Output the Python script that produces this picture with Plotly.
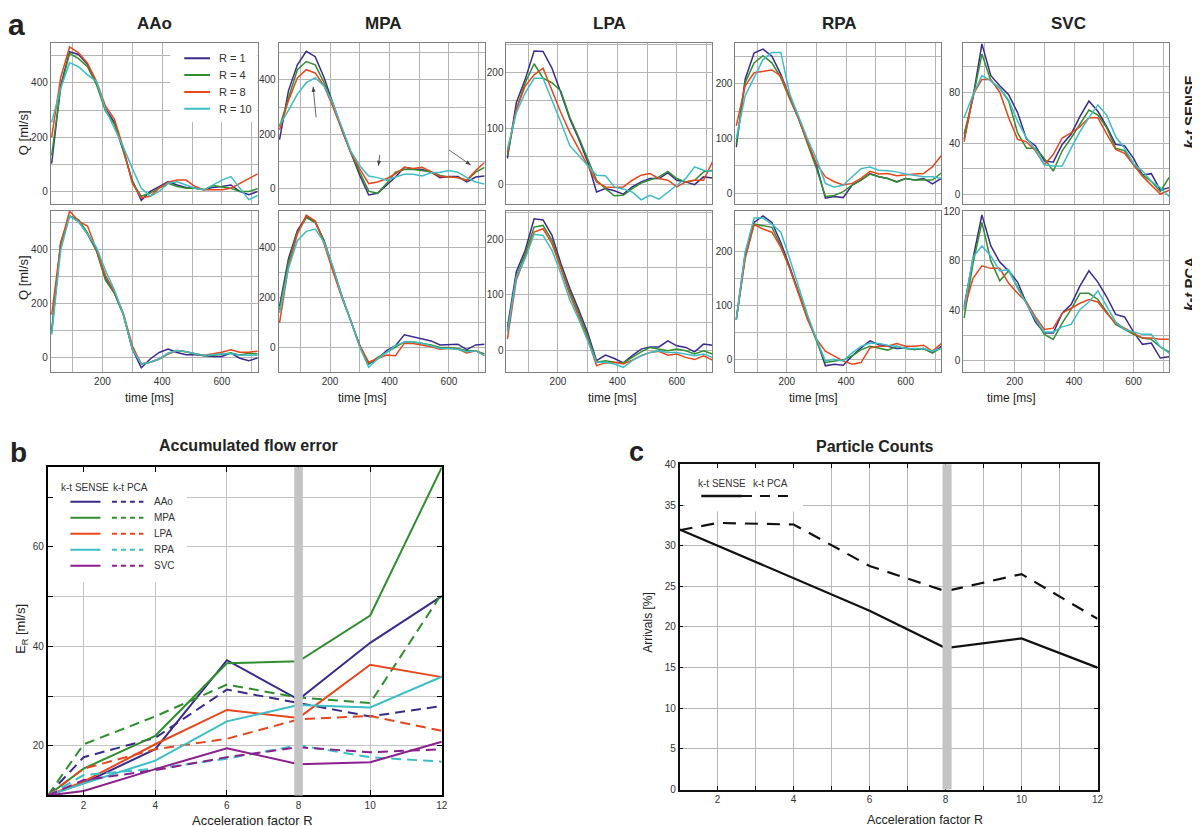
import plotly.graph_objects as go

# ---------------- data ----------------
T_MS = list(range(30, 721, 30))
R_LABELS = ['R = 1', 'R = 4', 'R = 8', 'R = 10']
VESSELS = ['AAo', 'MPA', 'LPA', 'RPA', 'SVC']

# flow curves Q [ml/s], one list per R (1, 4, 8, 10)
AAO_SENSE = [
    [103, 390, 515, 505, 468, 400, 305, 255, 150, 40, -33, 0, 18, 36, 24, 15, 12, 6, 15, 18, 24, 0, -12, 0],
    [133, 380, 509, 490, 460, 394, 297, 248, 150, 35, -18, -6, 12, 30, 18, 12, 12, 6, 22, 18, 12, 0, 0, 10],
    [200, 420, 533, 511, 473, 406, 315, 267, 160, 30, -24, -18, 12, 34, 42, 42, 18, 6, 6, 6, 12, 30, 45, 65],
    [255, 380, 475, 460, 430, 406, 303, 236, 164, 85, 12, -18, 0, 30, 36, 24, 12, 6, 24, 42, 55, 12, -30, -15],
]
AAO_PCA = [
    [100, 420, 524, 503, 457, 396, 293, 239, 160, 33, -36, -4, 20, 33, 20, 12, 12, 8, 5, 5, 18, -1, -10, 0],
    [93, 427, 524, 511, 462, 396, 287, 239, 160, 33, -22, -16, -4, 15, 27, 23, 15, 8, 10, 15, 18, 11, 17, 15],
    [160, 420, 542, 505, 487, 400, 305, 245, 165, 45, -22, -16, -4, 15, 27, 23, 15, 10, 15, 21, 30, 21, 21, 25],
    [87, 396, 524, 503, 457, 408, 323, 251, 160, 33, -22, -16, -4, 18, 27, 23, 15, 10, 12, 15, 15, 11, 10, 10],
]
MPA_SENSE = [
    [180, 360, 456, 506, 486, 408, 312, 216, 132, 48, -24, -18, 12, 42, 78, 72, 70, 60, 40, 44, 44, 24, 42, 46],
    [228, 336, 438, 468, 456, 390, 312, 216, 132, 60, -10, -18, 18, 60, 70, 70, 66, 62, 48, 42, 40, 30, 60, 78],
    [216, 324, 408, 438, 426, 378, 300, 216, 132, 72, 18, 24, 36, 54, 78, 74, 78, 62, 44, 42, 40, 30, 66, 96],
    [234, 288, 348, 390, 408, 378, 312, 222, 138, 84, 46, 40, 30, 42, 52, 52, 46, 58, 60, 66, 60, 40, 24, 16],
]
MPA_PCA = [
    [164, 354, 466, 521, 502, 426, 315, 203, 105, 7, -66, -46, -13, 7, 50, 42, 35, 26, 10, 10, 13, -9, 10, 13],
    [150, 341, 459, 518, 498, 426, 315, 203, 105, 7, -66, -40, -20, 0, 22, 22, 17, 10, 0, 0, -4, -13, -13, -26],
    [98, 321, 452, 528, 504, 413, 302, 197, 105, 7, -59, -43, -30, -33, 17, 16, 10, 3, -7, -3, -7, -22, -13, -33],
    [138, 315, 426, 463, 472, 420, 321, 203, 105, 0, -79, -46, -20, 7, 22, 22, 17, 7, -4, -4, -7, -17, -13, -33],
]
LPA_SENSE = [
    [46, 146, 188, 239, 238, 208, 164, 117, 81, 40, -14, -8, -12, -18, -5, 4, 10, 10, 20, 7, 4, -1, 13, 11],
    [51, 134, 182, 216, 190, 182, 167, 120, 84, 46, 7, -8, -21, -20, -8, 2, 7, 13, 23, 10, 4, 7, 22, 25],
    [57, 134, 176, 196, 208, 167, 128, 93, 63, 34, 4, -5, -6, -5, 7, 16, 19, 10, 7, -5, 4, 7, 7, 40],
    [63, 128, 164, 190, 190, 152, 111, 69, 51, 34, 16, 15, -5, -9, -14, -28, -20, -27, -14, -2, 10, 31, 25, 23],
]
LPA_PCA = [
    [41, 142, 181, 238, 236, 208, 157, 112, 73, 32, -19, -9, -15, -23, -10, 2, 6, 6, 17, 8, 5, -3, 11, 9],
    [35, 133, 175, 223, 226, 199, 151, 106, 67, 26, -22, -19, -22, -23, -13, -3, 5, 2, -1, 2, -1, -7, -1, -7],
    [20, 127, 169, 214, 220, 193, 148, 100, 61, 20, -28, -23, -22, -25, -18, -10, -4, -2, -9, -7, -13, -17, -10, -18],
    [32, 133, 166, 210, 208, 181, 139, 91, 56, 17, -22, -22, -25, -31, -19, -10, -4, -1, -4, -4, -7, -10, -7, -13],
]
RPA_SENSE = [
    [84, 208, 256, 263, 250, 217, 175, 136, 93, 51, -9, -6, -8, 15, 24, 36, 30, 27, 21, 27, 24, 27, 17, 27],
    [90, 202, 238, 251, 238, 211, 172, 136, 90, 45, -6, -4, 3, 15, 24, 35, 30, 27, 20, 27, 24, 24, 24, 37],
    [123, 196, 220, 223, 225, 214, 175, 136, 93, 54, 30, 21, 15, 18, 27, 40, 35, 36, 32, 34, 35, 36, 48, 69],
    [99, 178, 211, 244, 257, 257, 181, 139, 99, 63, 18, 11, 15, 30, 45, 48, 42, 41, 39, 35, 32, 30, 30, 27],
]
RPA_PCA = [
    [73, 195, 253, 265, 253, 216, 171, 125, 76, 37, -12, -9, -11, 6, 21, 34, 27, 24, 20, 21, 18, 20, 12, 24],
    [73, 189, 250, 247, 244, 210, 168, 122, 76, 34, -6, -3, -1, 6, 18, 24, 21, 17, 24, 20, 18, 20, 12, 21],
    [73, 186, 249, 241, 235, 207, 168, 119, 73, 37, 15, 6, -3, -9, -6, 21, 24, 24, 29, 24, 24, 26, 15, 29],
    [73, 198, 261, 261, 250, 235, 186, 134, 82, 37, -3, 0, -3, 12, 24, 30, 29, 26, 24, 20, 20, 20, 15, 20],
]
SVC_SENSE = [
    [43, 76, 118, 93, 85, 78, 64, 43, 38, 26, 25, 39, 47, 61, 73, 65, 53, 39, 38, 28, 15, 16, 3, 5],
    [47, 76, 110, 89, 83, 73, 48, 36, 36, 28, 18, 34, 44, 55, 66, 62, 52, 36, 34, 23, 15, 10, 2, 13],
    [41, 78, 90, 90, 80, 60, 43, 41, 34, 23, 31, 44, 48, 53, 60, 60, 47, 35, 32, 23, 14, 7, 0, 3],
    [60, 78, 93, 89, 83, 74, 57, 44, 35, 23, 22, 22, 36, 49, 60, 70, 62, 45, 36, 24, 18, 10, 5, -2],
]
SVC_PCA = [
    [43, 82, 117, 92, 79, 72, 63, 46, 31, 22, 22, 38, 45, 60, 72, 63, 51, 37, 35, 23, 13, 14, 2, 3],
    [34, 78, 111, 80, 64, 72, 59, 46, 33, 21, 17, 30, 41, 54, 54, 49, 39, 29, 25, 21, 18, 17, 11, 7],
    [41, 66, 76, 74, 74, 62, 54, 47, 35, 25, 26, 38, 42, 46, 49, 47, 38, 30, 26, 22, 18, 18, 17, 17],
    [41, 83, 92, 84, 72, 73, 58, 46, 33, 23, 23, 27, 29, 41, 47, 56, 43, 31, 25, 23, 21, 21, 11, 6],
]

# accumulated flow error E_R [ml/s], vessel order AAo, MPA, LPA, RPA, SVC
R_ACCEL = [1, 2, 4, 6, 8, 10, 12]
ERR_SENSE = [
    [10, 12.5, 19.3, 37.2, 29.3, 40.7, 50.1],
    [10, 15.4, 22.0, 36.6, 37.0, 46.2, 76.0],
    [10, 12.8, 20.3, 27.2, 25.6, 36.3, 33.8],
    [10, 12.4, 17.0, 24.9, 28.2, 27.7, 33.9],
    [10, 10.9, 15.3, 19.5, 16.3, 16.7, 20.8],
]
ERR_PCA = [
    [10, 17.7, 21.6, 31.3, 28.6, 25.9, 28.0],
    [10, 20.3, 25.9, 32.3, 29.7, 28.6, 50.6],
    [10, 15.4, 19.3, 21.4, 25.3, 26.0, 23.0],
    [10, 14.1, 15.4, 17.4, 20.1, 17.7, 16.8],
    [10, 13.1, 15.1, 17.7, 19.7, 18.7, 19.3],
]

# particle counts, arrivals [%]
ARRIVALS_SENSE = [32, 30, 26, 22, 17.4, 18.6, 15]
ARRIVALS_PCA = [31.9, 32.8, 32.6, 27.5, 24.4, 26.5, 21]

# ---------------- style ----------------
W, H = 1200, 826
FONT = 'Arial, "Liberation Sans", sans-serif'
R_COLORS = ['#3a2a8e', '#2f8f2f', '#e8461c', '#3dbdc6']
VESSEL_COLORS = ['#3a2a8e', '#2f8f2f', '#e8461c', '#3dbdc6', '#8b1f8e']
FRAME = '#808080'
GRID = '#b4b4b4'


def fx(px):
    return px / W


def fy(py):
    return 1 - py / H


def ax_name(k):
    return ('x' if k == 1 else f'x{k}'), ('y' if k == 1 else f'y{k}')


fig = go.Figure()
layout = dict(
    width=W, height=H, margin=dict(l=0, r=0, t=0, b=0),
    paper_bgcolor='white', plot_bgcolor='white', showlegend=False,
    font=dict(family=FONT, color='#222'),
)
shapes = []
annotations = []


def label(x, y, text, size, angle=0, xanchor='center', xref='paper', yref='paper', color='#222'):
    annotations.append(dict(x=x, y=y, xref=xref, yref=yref, text=text, showarrow=False,
                            font=dict(size=size, color=color, family=FONT), textangle=angle,
                            xanchor=xanchor, yanchor='middle'))


def arrow(hx, hy, tx, ty, xref, yref, sx, sy):
    # thin line + small filled head; sx, sy = pixels per data unit
    shapes.append(dict(type='line', xref=xref, yref=yref, x0=tx, y0=ty, x1=hx, y1=hy,
                       line=dict(color='#444', width=0.8), layer='above'))
    dx, dy = (hx - tx) * sx, (hy - ty) * sy
    n = (dx * dx + dy * dy) ** 0.5
    ux, uy = dx / n, dy / n
    bx, by = -ux * 5, -uy * 5
    px, py = -uy * 2, ux * 2
    pts = [(0, 0), (bx + px, by + py), (bx - px, by - py)]
    path = 'M ' + ' L '.join(f'{hx + a / sx:.3f},{hy + b / sy:.3f}' for a, b in pts) + ' Z'
    shapes.append(dict(type='path', xref=xref, yref=yref, path=path, fillcolor='#444',
                       line=dict(width=0), layer='above'))


# ---------------- panel a ----------------
COL_PX = [(43, 251), (272, 479), (501, 708), (731, 938), (960, 1167)]
ROW_PX = [(29, 193), (200, 363)]
Y_RANGES = [[[-47, 549], [-58, 538], [-36, 254], [-20, 275], [-8, 119]],
            [[-51, 542], [-97, 544], [-39, 252], [-23, 274], [-9, 120]]]
Y_DTICK = [200, 200, 100, 100, 40]
PANELS = [[AAO_SENSE, MPA_SENSE, LPA_SENSE, RPA_SENSE, SVC_SENSE],
          [AAO_PCA, MPA_PCA, LPA_PCA, RPA_PCA, SVC_PCA]]

for r in range(2):
    for c in range(5):
        k = r * 5 + c + 1
        xr, yr = ax_name(k)
        for series, color, name in zip(PANELS[r][c], R_COLORS, R_LABELS):
            fig.add_trace(go.Scatter(x=T_MS, y=series, mode='lines', name=name,
                                     line=dict(color=color, width=1.5),
                                     xaxis=xr, yaxis=yr, hoverinfo='skip'))
        common = dict(showline=True, mirror=True, linecolor=FRAME, linewidth=1,
                      showgrid=True, gridcolor=GRID, gridwidth=1, zeroline=False,
                      ticks='', tickfont=dict(size=10, color='#333'))
        layout['xaxis' if k == 1 else f'xaxis{k}'] = dict(
            domain=[fx(COL_PX[c][0]), fx(COL_PX[c][1])], range=[27, 720], anchor=yr,
            tick0=0, dtick=200, minor=dict(dtick=100, showgrid=True, gridcolor=GRID),
            showticklabels=(r == 1), **common)
        layout['yaxis' if k == 1 else f'yaxis{k}'] = dict(
            domain=[fy(ROW_PX[r][1]), fy(ROW_PX[r][0])], range=Y_RANGES[r][c], anchor=xr,
            tick0=0, dtick=Y_DTICK[c],
            minor=dict(dtick=Y_DTICK[c] / 2, showgrid=True, gridcolor=GRID), **common)

# legend of panel a (inside AAo k-t SENSE)
shapes.append(dict(type='rect', xref='x', yref='y', x0=427, x1=719, y0=255, y1=548,
                   fillcolor='white', line=dict(width=0), layer='between'))
for i, (name, color) in enumerate(zip(R_LABELS, R_COLORS)):
    yv = 491 - i * 62
    shapes.append(dict(type='line', xref='x', yref='y', x0=474, x1=560, y0=yv, y1=yv,
                       line=dict(color=color, width=2), layer='above'))
    label(584, yv, name, 11, xanchor='left', xref='x', yref='y', color='#333')

# arrows in MPA k-t SENSE (0.3 px/ms, 0.275 px per ml/s)
for hx, hy, tx, ty in [(143, 375, 153, 262), (363, 84, 367, 124), (673, 87, 600, 142)]:
    arrow(hx, hy, tx, ty, 'x2', 'y2', 0.3, 0.275)

for name, (x0, x1), dy in zip(VESSELS, COL_PX, [0, 2, 0, 1, 2]):
    label(fx((x0 + x1) / 2 + dy), fy(10), f'<b>{name}</b>', 17)
for xc in [142, 356, 608, 810, 1009]:
    label(fx(xc), fy(390), 'time [ms]', 12)
label(fx(15), fy(120), 'Q [ml/s]', 13, angle=-90)
label(fx(15), fy(267), 'Q [ml/s]', 13, angle=-90)
label(fx(1187), fy(100), '<b><i>k-t</i> SENSE</b>', 15, angle=-90)
label(fx(1187), fy(274), '<b><i>k-t</i> PCA</b>', 15, angle=-90)
label(fx(9), fy(11), '<b>a</b>', 30)

# ---------------- panel b ----------------
for s, p, color in zip(ERR_SENSE, ERR_PCA, VESSEL_COLORS):
    fig.add_trace(go.Scatter(x=R_ACCEL, y=s, mode='lines', line=dict(color=color, width=2),
                             xaxis='x11', yaxis='y11', hoverinfo='skip'))
    fig.add_trace(go.Scatter(x=R_ACCEL, y=p, mode='lines',
                             line=dict(color=color, width=2, dash='10px,6px'),
                             xaxis='x11', yaxis='y11', hoverinfo='skip'))

frame_b = dict(showline=True, mirror='allticks', linecolor='black', linewidth=2,
               ticks='inside', ticklen=5, tickcolor='black', showgrid=True,
               gridcolor='#c4c4c4', zeroline=False, tickfont=dict(size=10, color='#333'))
layout['xaxis11'] = dict(domain=[fx(40), fx(436)], range=[1, 12], anchor='y11',
                         tickvals=R_ACCEL[1:], **frame_b)
layout['yaxis11'] = dict(domain=[fy(793), fy(460)], range=[10, 76], anchor='x11',
                         tick0=0, dtick=20,
                         minor=dict(dtick=10, showgrid=True, gridcolor='#c4c4c4',
                                    ticks='inside', ticklen=5, tickcolor='black'),
                         **frame_b)

shapes.append(dict(type='rect', xref='x11', yref='y11', x0=1, x1=4.88, y0=52.9, y1=76,
                   fillcolor='white', line=dict(width=0), layer='between'))
shapes.append(dict(type='rect', xref='x11', yref='y11 domain', x0=7.88, x1=8.12, y0=0, y1=1,
                   fillcolor='#c4c4c4', line=dict(width=0), layer='above'))
label(2.05, 72, 'k-t SENSE', 10, xref='x11', yref='y11', color='#333')
label(3.3, 72, 'k-t PCA', 10, xref='x11', yref='y11', color='#333')
for i, (name, color) in enumerate(zip(VESSELS, VESSEL_COLORS)):
    yv = 69.1 - i * 3.22
    shapes.append(dict(type='line', xref='x11', yref='y11', x0=1.63, x1=2.47, y0=yv, y1=yv,
                       line=dict(color=color, width=2), layer='above'))
    shapes.append(dict(type='line', xref='x11', yref='y11', x0=2.79, x1=3.67, y0=yv, y1=yv,
                       line=dict(color=color, width=2, dash='5px,4px'), layer='above'))
    label(3.9, yv, name, 10, xanchor='left', xref='x11', yref='y11', color='#333')

label(fx(242), fy(438), '<b>Accumulated flow error</b>', 16)
label(fx(246), fy(818), 'Acceleration factor R', 13)
label(fx(14), fy(624), 'E<sub>R</sub> [ml/s]', 13, angle=-90)
label(fx(11), fy(445), '<b>b</b>', 28)

# ---------------- panel c ----------------
fig.add_trace(go.Scatter(x=R_ACCEL, y=ARRIVALS_SENSE, mode='lines', line=dict(color='#111', width=2.2),
                         xaxis='x12', yaxis='y12', hoverinfo='skip'))
fig.add_trace(go.Scatter(x=R_ACCEL, y=ARRIVALS_PCA, mode='lines',
                         line=dict(color='#111', width=2.2, dash='13px,9px'),
                         xaxis='x12', yaxis='y12', hoverinfo='skip'))

frame_c = dict(showline=True, mirror='allticks', linecolor='#111', linewidth=1.5,
               ticks='inside', ticklen=4, tickcolor='#111', showgrid=True,
               gridcolor='#b8b8b8', zeroline=False, tickfont=dict(size=10, color='#333'))
layout['xaxis12'] = dict(domain=[fx(675), fx(1095)], range=[1, 12], anchor='y12',
                         tick0=0, dtick=2,
                         minor=dict(dtick=1, showgrid=True, gridcolor='#b8b8b8', ticks='inside',
                                    ticklen=4, tickcolor='#111'), **frame_c)
layout['yaxis12'] = dict(domain=[fy(787), fy(457)], range=[0, 40], anchor='x12',
                         tick0=0, dtick=5, **frame_c)

shapes.append(dict(type='rect', xref='x12', yref='y12', x0=1.15, x1=4.25, y0=34.2, y1=40,
                   fillcolor='white', line=dict(width=0), layer='between'))
shapes.append(dict(type='rect', xref='x12', yref='y12 domain', x0=7.92, x1=8.16, y0=0, y1=1,
                   fillcolor='#c4c4c4', line=dict(width=0), layer='above'))
shapes.append(dict(type='line', xref='x12', yref='y12', x0=1.57, x1=2.64, y0=36.1, y1=36.1,
                   line=dict(color='#111', width=2.5), layer='above'))
shapes.append(dict(type='line', xref='x12', yref='y12', x0=2.64, x1=3.86, y0=36.1, y1=36.1,
                   line=dict(color='#111', width=2, dash='10px,8px'), layer='above'))
label(2.11, 37.65, 'k-t SENSE', 10, xref='x12', yref='y12', color='#333')
label(3.38, 37.65, 'k-t PCA', 10, xref='x12', yref='y12', color='#333')

label(fx(871), fy(439), '<b>Particle Counts</b>', 16)
label(fx(922), fy(818), 'Acceleration factor R', 12.5)
label(fx(643), fy(617), 'Arrivals [%]', 12, angle=-90)
label(fx(632), fy(444), '<b>c</b>', 27)

layout['shapes'] = shapes
layout['annotations'] = annotations
fig.update_layout(**layout)
fig.write_html("out.html")
